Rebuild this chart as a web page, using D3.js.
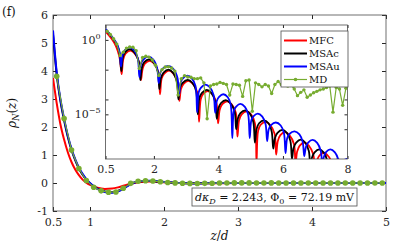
<!DOCTYPE html>
<html>
<head>
<meta charset="utf-8">
<script src="https://cdn.jsdelivr.net/npm/d3@7"></script>
<style>
  body { margin: 0; background: #fff; }
  .tick line { stroke: #262626; }
  .tick text { fill: #262626; }
</style>
</head>
<body>
<svg id="chart" width="407" height="246"></svg>
<script>
// ---- data ----
const xTicks = [0.5, 1, 2, 3, 4, 5]
const yTicks = [-1, 0, 1, 2, 3, 4, 5, 6]
const insetXTicks = [0.5, 2, 4, 6, 8]
const insetYTicks = [1e0, 1e-2, 1e-4, 1e-5, 1e-6]
const insetYLabels = [0, -5]

// main panel, [z/d, rho_N]
const mfcMain = [[0.5,3.75],[0.55,2.85],[0.6,2.1],[0.65,1.55],[0.7,1.1],[0.75,0.75],[0.8,0.48],[0.85,0.28],[0.9,0.12],[0.95,0.01],[1.0,-0.07],[1.1,-0.17],[1.2,-0.21],[1.3,-0.2],[1.4,-0.14],[1.5,-0.06],[1.6,0.0],[1.7,0.04],[1.8,0.05],[1.9,0.04],[2.0,0.025],[2.2,0.0],[2.5,-0.01],[3,0],[5,0]]
const msacMain = [[0.5,5.3],[0.55,3.88],[0.6,2.93],[0.65,2.24],[0.7,1.65],[0.75,1.18],[0.8,0.82],[0.85,0.52],[0.9,0.3],[0.95,0.12],[1.0,-0.01],[1.05,-0.12],[1.1,-0.2],[1.2,-0.3],[1.3,-0.33],[1.4,-0.26],[1.5,-0.11],[1.6,0.02],[1.7,0.06],[1.8,0.07],[1.9,0.055],[2.0,0.035],[2.1,0.015],[2.2,0.0],[2.4,-0.012],[2.7,0],[5,0]]
const msauMain = [[0.5,5.45],[0.55,3.95],[0.6,3.0],[0.65,2.3],[0.7,1.7],[0.75,1.22],[0.8,0.85],[0.85,0.55],[0.9,0.33],[0.95,0.14],[1.0,0.0],[1.05,-0.12],[1.1,-0.21],[1.2,-0.32],[1.3,-0.35],[1.4,-0.28],[1.5,-0.12],[1.6,0.02],[1.7,0.07],[1.8,0.08],[1.9,0.06],[2.0,0.04],[2.1,0.02],[2.2,0.0],[2.4,-0.015],[2.7,0],[5,0]]

// MD (simulation) samples, z/d = 0.55, 0.65, ... 7.95
const mdZ = d3.range(75).map(i => 0.55 + i * 0.1)
const mdRho = [3.81,2.3,1.18,0.52,0.09,-0.15,-0.28,-0.33,-0.32,-0.19,
  -0.012,0.065,0.08,0.07,0.045,0.02,0.004,-0.01,-0.015,-0.016,
  -0.013,-0.008,2e-4,2.5e-3,4e-3,3.2e-3,3.1e-3,2.5e-3,2.5e-3,2.8e-3,
  1.3e-3,5e-6,8e-4,1e-3,1.1e-3,1.4e-3,1.2e-3,1e-3,2e-4,1.1e-3,
  1e-3,9e-4,1.6e-4,1.8e-3,2e-3,1.6e-5,1.3e-3,1e-3,7e-4,1e-3,
  8e-4,2.5e-4,1e-3,1.6e-3,1e-3,1.2e-3,8e-4,1e-3,5e-4,1.8e-4,
  3e-4,4.4e-4,1.4e-4,2e-4,2.8e-4,3.5e-4,4.4e-4,5e-4,6.3e-4,8e-4,
  1.4e-5,6.3e-4,5e-4,4e-5,5.6e-4]

// inset, [z/d, log10|rho_N|]
const mfcLog = [[0.5,0.57],[0.6,0.32],[0.7,0.04],[0.8,-0.32],[0.88,-0.75],[0.95,-1.35],[1.0,-2.3],
  [1.05,-1.3],[1.12,-0.92],[1.27,-0.72],[1.41,-0.92],[1.55,-1.55],[1.6,-2.7],
  [1.65,-1.95],[1.72,-1.6],[1.87,-1.4],[2.01,-1.6],[2.14,-2.2],[2.19,-3.65],
  [2.24,-2.6],[2.32,-2.27],[2.47,-2.07],[2.61,-2.28],[2.74,-2.9],[2.79,-4.1],
  [2.84,-3.3],[2.92,-2.95],[3.07,-2.75],[3.21,-2.96],[3.35,-3.55],[3.4,-5.5],
  [3.45,-4.0],[3.52,-3.64],[3.67,-3.44],[3.81,-3.65],[3.94,-4.25],[3.99,-5.6],
  [4.04,-4.7],[4.12,-4.32],[4.27,-4.12],[4.41,-4.33],[4.54,-4.9],[4.59,-6.5],
  [4.64,-5.4],[4.72,-5.0],[4.87,-4.8],[5.01,-5.0],[5.13,-5.6],[5.18,-8.2],
  [5.23,-6.1],[5.31,-5.7],[5.46,-5.5],[5.6,-5.7],[5.74,-6.3],[5.79,-7.7],
  [5.84,-6.8],[5.92,-6.4],[6.06,-6.2],[6.2,-6.4],[6.34,-7.0],[6.39,-8.3],
  [6.44,-7.5],[6.52,-7.1],[6.66,-6.9],[6.8,-7.1],[6.94,-7.7],[6.99,-8.6],
  [7.04,-8.2],[7.12,-7.8],[7.26,-7.58],[7.4,-7.8],[7.54,-8.4],[7.59,-9],
  [7.64,-8.8],[7.72,-8.45],[7.86,-8.25],[8.0,-8.45]]
const msacLog = [[0.5,0.72],[0.6,0.46],[0.7,0.19],[0.8,-0.12],[0.88,-0.45],[0.94,-0.95],[0.99,-2.1],
  [1.04,-1.15],[1.11,-0.82],[1.25,-0.62],[1.39,-0.82],[1.53,-1.45],[1.58,-2.7],
  [1.63,-1.85],[1.7,-1.5],[1.85,-1.31],[1.99,-1.52],[2.12,-2.1],[2.17,-3.3],
  [2.22,-2.55],[2.3,-2.2],[2.45,-2.0],[2.59,-2.2],[2.71,-2.8],[2.76,-4.0],
  [2.81,-3.2],[2.89,-2.88],[3.05,-2.68],[3.19,-2.88],[3.31,-3.45],[3.36,-5.0],
  [3.41,-3.9],[3.49,-3.56],[3.64,-3.36],[3.78,-3.56],[3.9,-4.15],[3.95,-5.3],
  [4.0,-4.6],[4.08,-4.24],[4.23,-4.04],[4.37,-4.25],[4.5,-4.8],[4.55,-6.0],
  [4.6,-5.3],[4.68,-4.92],[4.83,-4.73],[4.97,-4.94],[5.08,-5.5],[5.13,-6.9],
  [5.18,-6.0],[5.26,-5.6],[5.41,-5.4],[5.55,-5.6],[5.65,-6.15],[5.7,-7.3],
  [5.75,-6.6],[5.83,-6.25],[5.98,-6.05],[6.12,-6.25],[6.23,-6.8],[6.28,-8.0],
  [6.33,-7.25],[6.41,-6.9],[6.55,-6.7],[6.69,-6.9],[6.8,-7.45],[6.85,-8.6],
  [6.9,-7.9],[6.98,-7.56],[7.12,-7.36],[7.26,-7.56],[7.37,-8.1],[7.42,-9],
  [7.47,-8.6],[7.55,-8.22],[7.7,-8.02],[7.84,-8.22],[7.95,-8.8],[8.0,-9]]
const msauLog = [[0.5,0.74],[0.6,0.48],[0.7,0.22],[0.8,-0.08],[0.88,-0.4],[0.94,-0.85],[0.98,-1.8],
  [1.03,-1.0],[1.1,-0.68],[1.24,-0.5],[1.38,-0.68],[1.5,-1.25],[1.55,-2.5],
  [1.6,-1.6],[1.68,-1.3],[1.83,-1.13],[1.98,-1.32],[2.1,-1.9],[2.15,-2.9],
  [2.2,-2.2],[2.28,-1.92],[2.44,-1.75],[2.6,-1.95],[2.73,-2.55],[2.78,-3.7],
  [2.83,-2.85],[2.9,-2.58],[3.04,-2.4],[3.18,-2.6],[3.29,-3.1],[3.34,-4.85],
  [3.39,-3.5],[3.46,-3.2],[3.6,-3.0],[3.74,-3.2],[3.85,-3.7],[3.9,-4.9],
  [3.95,-4.1],[4.02,-3.83],[4.15,-3.65],[4.29,-3.85],[4.38,-4.35],[4.43,-6.6],
  [4.48,-4.75],[4.55,-4.48],[4.68,-4.3],[4.82,-4.5],[4.92,-5.0],[4.97,-6.6],
  [5.02,-5.4],[5.09,-5.12],[5.22,-4.95],[5.36,-5.15],[5.46,-5.65],[5.51,-6.8],
  [5.56,-6.0],[5.63,-5.72],[5.78,-5.55],[5.93,-5.75],[6.03,-6.25],[6.08,-7.6],
  [6.13,-6.6],[6.2,-6.32],[6.36,-6.15],[6.51,-6.35],[6.61,-6.85],[6.66,-7.8],
  [6.71,-7.2],[6.78,-6.9],[6.92,-6.72],[7.06,-6.92],[7.17,-7.45],[7.22,-8.3],
  [7.27,-7.85],[7.34,-7.52],[7.47,-7.35],[7.61,-7.55],[7.71,-8.0],[7.76,-8.6],
  [7.81,-8.4],[7.88,-8.1],[8.0,-7.97]]

const seriesNames = ['MFC', 'MSAc', 'MSAu', 'MD']
const seriesColors = ['#ff0000', '#000000', '#0000ff', '#77ac30']

// ---- layout ----
const main = {left: 53, right: 386, top: 15, bottom: 211}
const inset = {left: 105.5, right: 347.5, top: 25, bottom: 159}
const frameColor = '#4d4d4d'
const serif = 'DejaVu Serif'

const svg = d3.select('#chart').style('font-family', serif)

const x = d3.scaleLinear().domain([0.5, 5]).range([main.left, main.right])
const y = d3.scaleLinear().domain([-1, 6]).range([main.bottom, main.top])
const xi = d3.scaleLinear().domain([0.5, 8]).range([inset.left, inset.right])
const yi = d3.scaleLog().domain([1e-8, 10]).range([inset.bottom, inset.top])

const defs = svg.append('defs')
defs.append('clipPath').attr('id', 'clip-main')
    .append('rect')
    .attr('x', main.left).attr('y', main.top)
    .attr('width', main.right - main.left).attr('height', main.bottom - main.top)
defs.append('clipPath').attr('id', 'clip-inset')
    .append('rect')
    .attr('x', inset.left).attr('y', inset.top)
    .attr('width', inset.right - inset.left).attr('height', inset.bottom - inset.top)

// panel tag
svg.append('text').attr('x', 2).attr('y', 16).style('font-size', '12px').attr('fill', '#111').text('(f)')

// ---- main axes ----
// bottom/left with labels, top/right ticks only
const axB = svg.append('g').attr('transform', `translate(0,${main.bottom})`)
    .call(d3.axisBottom(x).tickValues(xTicks).tickFormat(d3.format('')).tickSizeInner(-4).tickSizeOuter(0).tickPadding(7))
const axT = svg.append('g').attr('transform', `translate(0,${main.top})`)
    .call(d3.axisTop(x).tickValues(xTicks).tickFormat('').tickSizeInner(-4).tickSizeOuter(0))
const axL = svg.append('g').attr('transform', `translate(${main.left},0)`)
    .call(d3.axisLeft(y).tickValues(yTicks).tickFormat(d => d < 0 ? '-' + Math.abs(d) : d).tickSizeInner(-4).tickSizeOuter(0).tickPadding(5))
const axR = svg.append('g').attr('transform', `translate(${main.right},0)`)
    .call(d3.axisRight(y).tickValues(yTicks).tickFormat('').tickSizeInner(-4).tickSizeOuter(0))
;[axB, axT, axL, axR].forEach(g => {
    g.select('.domain').remove()
    g.attr('font-family', serif).attr('font-size', 11)
})

svg.append('rect')
    .attr('x', main.left).attr('y', main.top)
    .attr('width', main.right - main.left).attr('height', main.bottom - main.top)
    .attr('fill', 'none').attr('stroke', frameColor).attr('stroke-width', 0.8)

// main curves
const lineMain = d3.line().x(d => x(d[0])).y(d => y(d[1])).curve(d3.curveMonotoneX)
const gMain = svg.append('g').attr('clip-path', 'url(#clip-main)')
;[mfcMain, msacMain, msauMain].forEach((s, i) => {
    gMain.append('path').datum(s)
        .attr('d', lineMain)
        .attr('fill', 'none')
        .attr('stroke', seriesColors[i])
        .attr('stroke-width', 2)
})
const mdMain = mdZ.map((z, i) => [z, mdRho[i]]).filter(d => d[0] <= 5)
gMain.append('path').datum(mdMain)
    .attr('d', d3.line().x(d => x(d[0])).y(d => y(d[1])))
    .attr('fill', 'none').attr('stroke', seriesColors[3]).attr('stroke-width', 1.2)
gMain.selectAll('.md-dot').data(mdMain).join('circle')
    .attr('class', 'md-dot')
    .attr('cx', d => x(d[0])).attr('cy', d => y(d[1]))
    .attr('r', 2.8).attr('fill', seriesColors[3])

// axis titles
const yTitle = svg.append('text')
    .attr('transform', `translate(16,${(main.top + main.bottom) / 2}) rotate(-90)`)
    .attr('text-anchor', 'middle').style('font-size', '12px').attr('fill', '#111')
yTitle.append('tspan').attr('font-style', 'italic').text('ρ')
yTitle.append('tspan').attr('font-style', 'italic').style('font-size', '8.5px').attr('dy', 3).text('N')
yTitle.append('tspan').attr('dy', -3).text('(')
yTitle.append('tspan').attr('font-style', 'italic').text('z')
yTitle.append('tspan').text(')')

const xTitle = svg.append('text')
    .attr('x', (main.left + main.right) / 2).attr('y', 240)
    .attr('text-anchor', 'middle').style('font-size', '12px').attr('fill', '#111')
xTitle.append('tspan').attr('font-style', 'italic').text('z')
xTitle.append('tspan').text('/')
xTitle.append('tspan').attr('font-style', 'italic').text('d')

// ---- inset ----
svg.append('rect')
    .attr('x', inset.left).attr('y', inset.top)
    .attr('width', inset.right - inset.left).attr('height', inset.bottom - inset.top)
    .attr('fill', '#fff')

const ib = svg.append('g').attr('transform', `translate(0,${inset.bottom})`)
    .call(d3.axisBottom(xi).tickValues(insetXTicks).tickFormat(d3.format('')).tickSizeInner(-3).tickSizeOuter(0).tickPadding(6))
const it = svg.append('g').attr('transform', `translate(0,${inset.top})`)
    .call(d3.axisTop(xi).tickValues(insetXTicks).tickFormat('').tickSizeInner(-3).tickSizeOuter(0))
const il = svg.append('g').attr('transform', `translate(${inset.left},0)`)
    .call(d3.axisLeft(yi).tickValues(insetYTicks).tickFormat('').tickSizeInner(-3).tickSizeOuter(0))
const ir = svg.append('g').attr('transform', `translate(${inset.right},0)`)
    .call(d3.axisRight(yi).tickValues(insetYTicks).tickFormat('').tickSizeInner(-3).tickSizeOuter(0))
;[ib, it, il, ir].forEach(g => {
    g.select('.domain').remove()
    g.attr('font-family', serif).attr('font-size', 11)
})

// 10^n labels on the inset y axis
insetYLabels.forEach(p => {
    const t = svg.append('text')
        .attr('x', inset.left - 5).attr('y', yi(Math.pow(10, p)) + 4)
        .attr('text-anchor', 'end').style('font-size', '11px').attr('fill', '#262626')
    t.append('tspan').text('10')
    t.append('tspan').attr('dy', -5).style('font-size', '8px').text(p < 0 ? '\u2212' + Math.abs(p) : p)
})

const lineLog = d3.line().x(d => xi(d[0])).y(d => yi(Math.pow(10, d[1]))).curve(d3.curveCatmullRom.alpha(0.5))
const gInset = svg.append('g').attr('clip-path', 'url(#clip-inset)')
;[mfcLog, msacLog, msauLog].forEach((s, i) => {
    gInset.append('path').datum(s)
        .attr('d', lineLog)
        .attr('fill', 'none')
        .attr('stroke', seriesColors[i])
        .attr('stroke-width', 1.8)
        .attr('stroke-linejoin', 'round')
})
const mdLog = mdZ.map((z, i) => [z, Math.abs(mdRho[i])])
gInset.append('path').datum(mdLog)
    .attr('d', d3.line().x(d => xi(d[0])).y(d => yi(d[1])))
    .attr('fill', 'none').attr('stroke', seriesColors[3]).attr('stroke-width', 1.2)
gInset.selectAll('.md-dot').data(mdLog).join('circle')
    .attr('class', 'md-dot')
    .attr('cx', d => xi(d[0])).attr('cy', d => yi(d[1]))
    .attr('r', 1.7).attr('fill', seriesColors[3])

svg.append('rect')
    .attr('x', inset.left).attr('y', inset.top)
    .attr('width', inset.right - inset.left).attr('height', inset.bottom - inset.top)
    .attr('fill', 'none').attr('stroke', frameColor).attr('stroke-width', 0.8)

// legend
const leg = {x: 281, y: 31, w: 67, h: 56}
svg.append('rect')
    .attr('x', leg.x).attr('y', leg.y).attr('width', leg.w).attr('height', leg.h)
    .attr('fill', '#fff').attr('stroke', frameColor).attr('stroke-width', 0.8)
seriesNames.forEach((name, i) => {
    const ly = leg.y + 9.5 + i * 13
    svg.append('line')
        .attr('x1', leg.x + 3).attr('x2', leg.x + 26).attr('y1', ly).attr('y2', ly)
        .attr('stroke', seriesColors[i]).attr('stroke-width', i === 3 ? 1.2 : 2)
    if (i === 3) {
        svg.append('circle').attr('cx', leg.x + 14.5).attr('cy', ly).attr('r', 1.8).attr('fill', seriesColors[i])
    }
    svg.append('text')
        .attr('x', leg.x + 28).attr('y', ly + 3.5)
        .style('font-size', '10px').attr('fill', '#111')
        .text(name)
})

// parameter box
const ann = {x: 192, y: 188, w: 165, h: 18}
svg.append('rect')
    .attr('x', ann.x).attr('y', ann.y).attr('width', ann.w).attr('height', ann.h)
    .attr('fill', '#fff').attr('stroke', frameColor).attr('stroke-width', 0.8)
const at = svg.append('text')
    .attr('x', ann.x + ann.w / 2).attr('y', ann.y + 13)
    .attr('text-anchor', 'middle').style('font-size', '11px').attr('fill', '#111')
at.append('tspan').attr('font-style', 'italic').text('dκ')
at.append('tspan').attr('font-style', 'italic').style('font-size', '8px').attr('dy', 2.5).text('D')
at.append('tspan').attr('dy', -2.5).text(' = 2.243, Φ')
at.append('tspan').style('font-size', '8px').attr('dy', 2.5).text('0')
at.append('tspan').attr('dy', -2.5).text(' = 72.19 mV')
</script>
</body>
</html>
